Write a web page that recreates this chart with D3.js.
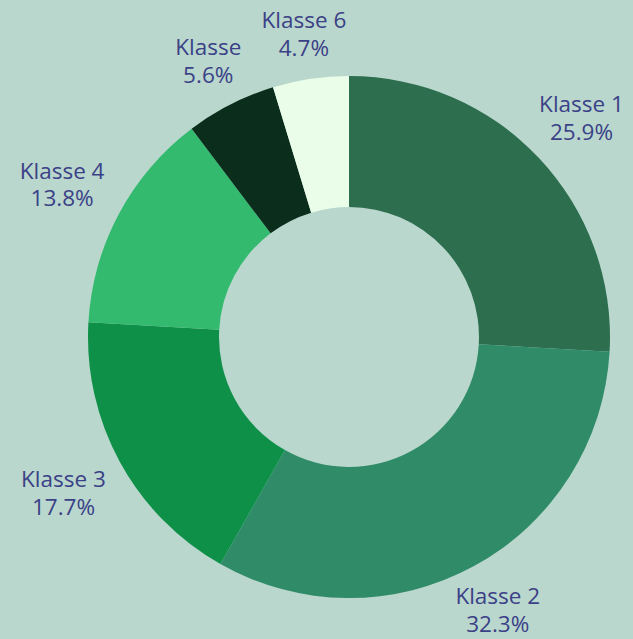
<!DOCTYPE html>
<html>
<head>
<script src="https://d3js.org/d3.v7.min.js"></script>
<style>
  body { margin: 0; background: #b9d7cd; }
</style>
</head>
<body>
<svg class="target"></svg>
<script>

width = 633
height = 639

// chart data
categories = ['Klasse 1', 'Klasse 2', 'Klasse 3', 'Klasse 4', 'Klasse 5', 'Klasse 6']
labels = ['Klasse 1', 'Klasse 2', 'Klasse 3', 'Klasse 4', 'Klasse', 'Klasse 6']   // label of slice 5 is cut off in the original
values = [25.9, 32.3, 17.7, 13.8, 5.6, 4.7]
sliceColors = ['#2d6e4f', '#2f8b68', '#0f9048', '#34ba6f', '#0b2d1c', '#eafde9']

cx = 349
cy = 337
outerR = 261
innerR = 130

const data = categories.map((c, i) => ({ cat: c, label: labels[i], value: values[i] }))

colors = d3.scaleOrdinal(categories, sliceColors)

pie = d3.pie()
  .sort(null)
  .value(d => d.value)

arc = d3.arc()
  .innerRadius(innerR)
  .outerRadius(outerR)

const svg = d3.select('.target')
    .attr('width', width)
    .attr('height', height)

svg.append('rect')
    .attr('width', width)
    .attr('height', height)
    .attr('fill', '#b9d7cd')

const g = svg.append('g')
    .attr('transform', `translate(${cx},${cy})`)

const arcs = pie(data)

g.selectAll('path')
  .data(arcs)
  .join('path')
    .attr('d', arc)
    .attr('fill', d => colors(d.data.cat))

// labels: two lines, pushed outwards until the box clears the ring
const lab = g.selectAll('text')
  .data(arcs)
  .join('text')
    .attr('text-anchor', 'middle')
    .style('font-family', '"Open Sans", sans-serif')
    .style('font-size', '22.5px')
    .style('fill', '#3b4187')

lab.append('tspan')
    .attr('x', 0)
    .attr('dy', '-0.15em')
    .text(d => d.data.label)

lab.append('tspan')
    .attr('x', 0)
    .attr('dy', '1.24em')
    .text(d => d.data.value.toFixed(1) + '%')

lab.each(function(d) {
  const b = this.getBBox()
  const a = (d.startAngle + d.endAngle) / 2
  const s = Math.sin(a), c = Math.cos(a)
  const hw = b.width / 2, hh = b.height / 2
  const ext = Math.min(Math.abs(s) > 1e-6 ? hw / Math.abs(s) : 1e9, Math.abs(c) > 1e-6 ? hh / Math.abs(c) : 1e9)
  const r = outerR + 16 + ext
  const bx = b.x + hw, by = b.y + hh    // box centre in text coords
  d3.select(this).attr('transform', `translate(${r * s - bx},${-r * c - by})`)
})

</script>
</body>
</html>
